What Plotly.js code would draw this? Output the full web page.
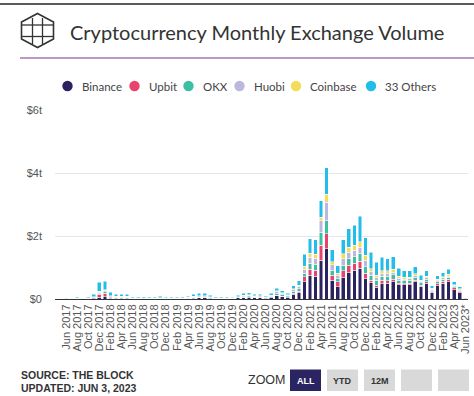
<!DOCTYPE html>
<html>
<head>
<meta charset="utf-8">
<script src="https://cdn.plot.ly/plotly-3.0.1.min.js"></script>
<style>
html,body{margin:0;padding:0;background:#fff;}
#chart{width:474px;height:396px;}
</style>
</head>
<body>
<div id="chart"></div>
<script>
// ---- DATA (trillions USD) ----
const months = ["Jun 2017","Jul 2017","Aug 2017","Sep 2017","Oct 2017","Nov 2017","Dec 2017",
"Jan 2018","Feb 2018","Mar 2018","Apr 2018","May 2018","Jun 2018","Jul 2018","Aug 2018","Sep 2018","Oct 2018","Nov 2018","Dec 2018",
"Jan 2019","Feb 2019","Mar 2019","Apr 2019","May 2019","Jun 2019","Jul 2019","Aug 2019","Sep 2019","Oct 2019","Nov 2019","Dec 2019",
"Jan 2020","Feb 2020","Mar 2020","Apr 2020","May 2020","Jun 2020","Jul 2020","Aug 2020","Sep 2020","Oct 2020","Nov 2020","Dec 2020",
"Jan 2021","Feb 2021","Mar 2021","Apr 2021","May 2021","Jun 2021","Jul 2021","Aug 2021","Sep 2021","Oct 2021","Nov 2021","Dec 2021",
"Jan 2022","Feb 2022","Mar 2022","Apr 2022","May 2022","Jun 2022","Jul 2022","Aug 2022","Sep 2022","Oct 2022","Nov 2022","Dec 2022",
"Jan 2023","Feb 2023","Mar 2023","Apr 2023","May 2023","Jun 2023*"];

const binance = [0.0,0.002,0.004,0.004,0.005,0.015,0.05,0.07,0.03,0.025,0.025,0.025,0.012,0.012,0.011,0.01,0.01,0.014,0.01,0.01,0.009,0.01,0.018,0.03,0.04,0.04,0.028,0.016,0.016,0.017,0.015,0.032,0.05,0.058,0.045,0.046,0.031,0.056,0.1,0.08,0.058,0.15,0.2,
0.55,0.75,0.72,1.23,1.6,0.6,0.39,0.68,0.83,0.92,0.97,0.65,0.52,0.37,0.49,0.5,0.55,0.45,0.45,0.46,0.55,0.4,0.5,0.22,0.42,0.5,0.55,0.3,0.2,0.01];

const upbit = [0.002,0.003,0.004,0.003,0.004,0.02,0.1,0.12,0.03,0.02,0.015,0.015,0.006,0.005,0.005,0.004,0.004,0.006,0.004,0.004,0.003,0.003,0.006,0.012,0.015,0.012,0.007,0.004,0.004,0.004,0.003,0.006,0.01,0.01,0.007,0.007,0.005,0.008,0.02,0.014,0.01,0.03,0.04,
0.15,0.2,0.2,0.47,0.47,0.16,0.16,0.21,0.24,0.21,0.23,0.16,0.08,0.07,0.1,0.08,0.07,0.05,0.04,0.04,0.04,0.03,0.04,0.02,0.06,0.07,0.07,0.05,0.04,0.002];

const okx = [0.002,0.004,0.006,0.004,0.005,0.015,0.03,0.04,0.02,0.015,0.015,0.015,0.008,0.008,0.008,0.007,0.007,0.011,0.007,0.007,0.006,0.006,0.011,0.02,0.024,0.025,0.017,0.01,0.01,0.01,0.009,0.018,0.027,0.03,0.023,0.023,0.015,0.027,0.06,0.045,0.03,0.06,0.08,
0.12,0.18,0.18,0.42,0.42,0.16,0.1,0.18,0.21,0.21,0.24,0.21,0.16,0.16,0.13,0.14,0.15,0.1,0.09,0.09,0.1,0.08,0.09,0.04,0.06,0.06,0.07,0.05,0.04,0.002];

const huobi = [0.003,0.005,0.007,0.005,0.006,0.015,0.04,0.04,0.02,0.015,0.015,0.015,0.008,0.008,0.008,0.007,0.007,0.011,0.007,0.007,0.006,0.006,0.01,0.018,0.022,0.022,0.015,0.009,0.009,0.009,0.008,0.016,0.024,0.026,0.02,0.02,0.013,0.024,0.06,0.04,0.025,0.06,0.08,
0.12,0.2,0.2,0.37,0.58,0.16,0.1,0.21,0.21,0.21,0.21,0.21,0.1,0.08,0.08,0.08,0.08,0.06,0.05,0.05,0.05,0.05,0.05,0.03,0.04,0.04,0.04,0.03,0.02,0.001];

const coinbase = [0.003,0.004,0.005,0.004,0.005,0.01,0.03,0.03,0.01,0.01,0.01,0.01,0.004,0.004,0.004,0.003,0.003,0.005,0.003,0.003,0.003,0.003,0.005,0.008,0.01,0.01,0.007,0.004,0.004,0.004,0.003,0.006,0.009,0.01,0.007,0.007,0.005,0.009,0.02,0.015,0.01,0.03,0.04,
0.1,0.12,0.12,0.1,0.26,0.1,0.07,0.16,0.16,0.16,0.16,0.16,0.1,0.07,0.1,0.1,0.1,0.07,0.06,0.05,0.06,0.04,0.05,0.03,0.04,0.04,0.05,0.03,0.02,0.001];

const others = [0.01,0.022,0.034,0.02,0.025,0.075,0.28,0.27,0.1,0.065,0.07,0.07,0.032,0.033,0.034,0.029,0.029,0.043,0.029,0.029,0.023,0.022,0.04,0.062,0.069,0.071,0.046,0.027,0.027,0.026,0.022,0.042,0.06,0.066,0.048,0.047,0.031,0.056,0.08,0.066,0.047,0.09,0.14,
0.38,0.47,0.46,0.53,0.84,0.39,0.24,0.44,0.58,0.63,0.81,0.56,0.53,0.42,0.42,0.38,0.39,0.24,0.2,0.2,0.22,0.16,0.16,0.08,0.12,0.13,0.16,0.09,0.07,0.004];

const seriesNames = ["Binance","Upbit","OKX","Huobi","Coinbase","33 Others"];
const yTickVals = [0, 2, 4, 6];
const yTickText = ["$0", "$2t", "$4t", "$6t"];

// ---- STYLE ----
const colors = ["#2a2360","#e8436d","#3dbfa3","#bcb7dd","#f3dc5a","#22bde8"];
const seriesData = [binance, upbit, okx, huobi, coinbase, others];

const W = 474, H = 396, ML = 55, MR = 6, MT = 110, MB = 97;
const PW = W - ML - MR, PH = H - MT - MB;
const px = x => (x - ML) / PW;
const py = y => (H - MB - y) / PH;

const traces = seriesData.map((vals, i) => ({
  type: 'bar', x: months, y: vals, name: seriesNames[i],
  marker: {color: colors[i], line: {color: '#ffffff', width: 0.5}},
  showlegend: false, hoverinfo: 'skip'
}));

const shapes = [];
const annotations = [];

// top border and purple rule
shapes.push({type:'line', xref:'paper', yref:'paper', x0:px(0), x1:px(474), y0:py(4), y1:py(4), line:{color:'#222', width:1.5}});
shapes.push({type:'line', xref:'paper', yref:'paper', x0:px(20), x1:px(474), y0:py(58), y1:py(58), line:{color:'#7e2f91', width:1.2}});

// logo
const hex = [[37.5,13.5],[53.5,22],[53.5,39],[37.5,47.5],[21.5,39],[21.5,22]];
let p = 'M ' + hex.map(v => px(v[0]) + ',' + py(v[1])).join(' L ') + ' Z';
shapes.push({type:'path', xref:'paper', yref:'paper', path:p, line:{color:'#333', width:1.6}});
const inner = [[22,25,53,25],[22,36.5,53,36.5],[32.5,18,32.5,44],[42.5,18,42.5,44]];
inner.forEach(s => shapes.push({type:'line', xref:'paper', yref:'paper', x0:px(s[0]), y0:py(s[1]), x1:px(s[2]), y1:py(s[3]), line:{color:'#333', width:1.3}}));

// legend (manual, circles + text)
const legCircleX = [67.5, 134.5, 188.5, 239.5, 296, 371];
const legY = 86, r = 5.2;
seriesNames.forEach((n, i) => {
  shapes.push({type:'circle', xref:'paper', yref:'paper', x0:px(legCircleX[i]-r), x1:px(legCircleX[i]+r), y0:py(legY+r), y1:py(legY-r), fillcolor:colors[i], line:{width:0}});
  annotations.push({xref:'paper', yref:'paper', x:px(legCircleX[i]+12), y:py(legY), xanchor:'left', yanchor:'middle', text:n, showarrow:false, font:{family:'Lato, sans-serif', size:11.5, color:'#444'}});
});

// footer
annotations.push({xref:'paper', yref:'paper', x:px(19), y:py(374.5), xanchor:'left', yanchor:'middle', text:'<b>SOURCE: THE BLOCK</b>', showarrow:false, font:{family:'Liberation Sans, Arial, sans-serif', size:10.5, color:'#333'}});
annotations.push({xref:'paper', yref:'paper', x:px(19), y:py(387.5), xanchor:'left', yanchor:'middle', text:'<b>UPDATED: JUN 3, 2023</b>', showarrow:false, font:{family:'Liberation Sans, Arial, sans-serif', size:10.5, color:'#333'}});

// zoom buttons
annotations.push({xref:'paper', yref:'paper', x:px(267), y:py(380), xanchor:'center', yanchor:'middle', text:'ZOOM', showarrow:false, font:{family:'Liberation Sans, Arial, sans-serif', size:12.5, color:'#333'}});
const btns = [[290,321,'ALL','#2a2462','#fff'],[327,358,'YTD','#d9d9d9','#333'],[364,395,'12M','#d9d9d9','#333'],[401,432,'','#d9d9d9','#333'],[438,469,'','#d9d9d9','#333']];
btns.forEach(b => {
  shapes.push({type:'rect', xref:'paper', yref:'paper', x0:px(b[0]), x1:px(b[1]), y0:py(391), y1:py(369.5), fillcolor:b[3], line:{width:0}});
  if (b[2]) annotations.push({xref:'paper', yref:'paper', x:px((b[0]+b[1])/2), y:py(381), xanchor:'center', yanchor:'middle', text:'<b>'+b[2]+'</b>', showarrow:false, font:{family:'Liberation Sans, Arial, sans-serif', size:9, color:b[4]}});
});

const layout = {
  width: W, height: H,
  margin: {l: ML, r: MR, t: MT, b: MB, pad: 0},
  paper_bgcolor: '#fff', plot_bgcolor: '#fff',
  barmode: 'stack', bargap: 0.33,
  showlegend: false,
  title: {text: 'Cryptocurrency Monthly Exchange Volume', xref:'container', yref:'container', x: 70/W, xanchor:'left', y: 1 - 33/H, yanchor:'middle',
    font: {family: 'Lato, sans-serif', size: 20, color: '#333'}},
  xaxis: {type:'category', range:[-2, 72.5], tickvals: months.filter((m,i)=>i%2===0), tickangle:-90,
    tickfont:{family:'Liberation Sans, Arial, sans-serif', size:11, color:'#555'}, showgrid:false,
    showline:true, linecolor:'#333', linewidth:1, ticks:'', fixedrange:true, automargin:false},
  yaxis: {range:[0, 6], tickvals: yTickVals, ticktext: yTickText, showgrid:true, gridcolor:'#e6e6e6', gridwidth:1,
    zeroline:false, tickfont:{family:'Liberation Sans, Arial, sans-serif', size:11, color:'#555'}, ticklabelstandoff: 12,
    fixedrange:true, automargin:false},
  shapes: shapes, annotations: annotations,
  hovermode: false
};

Plotly.newPlot('chart', traces, layout, {displayModeBar:false, staticPlot:true});
</script>
</body>
</html>
